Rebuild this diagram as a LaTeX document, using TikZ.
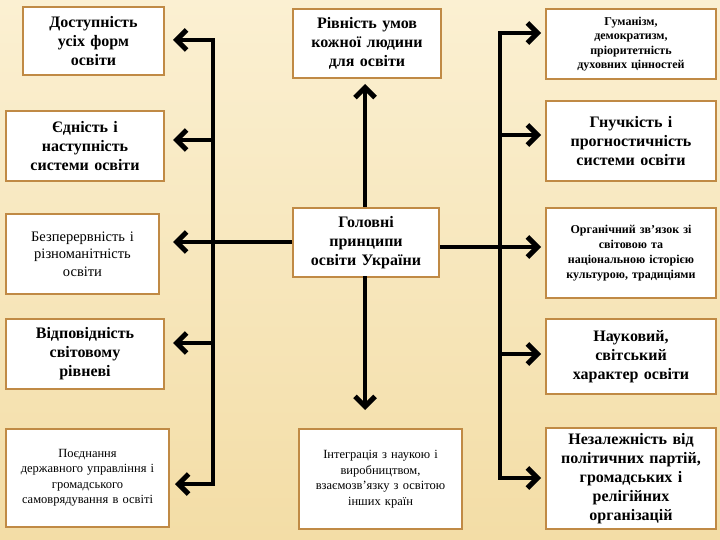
\documentclass[tikz,border=0pt]{standalone}
\usepackage{fontspec}
\setmainfont{Liberation Serif}
\usetikzlibrary{arrows.meta}
\definecolor{bgA}{HTML}{FBF0D2}
\definecolor{bgB}{HTML}{F3DDA6}
\definecolor{frame}{HTML}{C08A45}
\tikzset{
 bx/.style={draw=frame,line width=2pt,fill=white,align=center,inner sep=2pt,anchor=north west},
 bb/.style={font=\bfseries\fontsize{16}{19}\selectfont},
 sm/.style={font=\fontsize{12.5}{15.5}\selectfont},
 ln/.style={line width=4pt,black},
 ar/.style={ln,-{Straight Barb[length=10pt,width=20pt,line width=5pt]}}
}
\begin{document}
\begin{tikzpicture}[x=1pt,y=-1pt]
\shade[top color=bgA,bottom color=bgB] (0,0) rectangle (720,540);
\useasboundingbox (0,0) rectangle (720,540);
% left
\node[bx,bb,minimum width=141,minimum height=68,text width=135] (l1) at (22,6) {Доступність\\усіх форм\\освіти};
\node[bx,bb,minimum width=158,minimum height=70,text width=152] (l2) at (5,110) {Єдність і\\наступність\\системи освіти};
\node[bx,font=\fontsize{14.5}{17.5}\selectfont,minimum width=153,minimum height=80,text width=147] (l3) at (5,213) {Безперервність і\\різноманітність\\освіти};
\node[bx,bb,minimum width=158,minimum height=70,text width=152] (l4) at (5,318) {Відповідність\\світовому\\рівневі};
\node[bx,sm,minimum width=163,minimum height=98,text width=157] (l5) at (5,428) {Поєднання\\державного управління і\\громадського\\самоврядування в освіті};
% middle
\node[bx,bb,minimum width=148,minimum height=69,text width=142] (m1) at (292,8) {Рівність умов\\кожної людини\\для освіти};
\node[bx,bb,minimum width=146,minimum height=69,text width=140] (m2) at (292,207) {Головні\\принципи\\освіти України};
\node[bx,sm,minimum width=163,minimum height=100,text width=157] (m3) at (298,428) {Інтеграція з наукою і\\виробництвом,\\взаємозв'язку з освітою\\інших країн};
% right
\node[bx,font=\bfseries\fontsize{12}{14.5}\selectfont,minimum width=170,minimum height=70,text width=164] (r1) at (545,8) {Гуманізм,\\демократизм,\\пріоритетність\\духовних цінностей};
\node[bx,bb,minimum width=170,minimum height=80,text width=164] (r2) at (545,100) {Гнучкість і\\прогностичність\\системи освіти};
\node[bx,font=\bfseries\fontsize{12}{15}\selectfont,minimum width=170,minimum height=90,text width=164] (r3) at (545,207) {Органічний зв'язок зі\\світовою та\\національною історією\\культурою, традиціями};
\node[bx,bb,minimum width=170,minimum height=75,text width=164] (r4) at (545,318) {Науковий,\\світський\\характер освіти};
\node[bx,bb,minimum width=170,minimum height=101,text width=164] (r5) at (545,427) {Незалежність від\\політичних партій,\\громадських і\\релігійних\\організацій};
% connectors
\coordinate (lt) at (213,40); \coordinate (lb) at (213,484);
\coordinate (rt) at (500,33); \coordinate (rb) at (500,478);
\draw[ln] (lt) -- (lb);
\draw[ln] (rt) -- (rb);
\draw[ar] ([xshift=2pt]lt) -- ([xshift=8pt]l1.east |- lt);
\draw[ar] (213,140) -- ([xshift=8pt]l2.east |- 0,140);
\draw[ar] (m2.west |- 0,242) -- ([xshift=13pt]l3.east |- 0,242);
\draw[ar] (213,343) -- ([xshift=8pt]l4.east |- 0,343);
\draw[ar] ([xshift=2pt]lb) -- ([xshift=5pt]l5.east |- lb);
\draw[ar] ([xshift=-2pt]rt) -- ([xshift=-4pt]r1.west |- rt);
\draw[ar] (500,135) -- ([xshift=-4pt]r2.west |- 0,135);
\draw[ar] (m2.east |- 0,247) -- ([xshift=-4pt]r3.west |- 0,247);
\draw[ar] (500,354) -- ([xshift=-4pt]r4.west |- 0,354);
\draw[ar] ([xshift=-2pt]rb) -- ([xshift=-4pt]r5.west |- rb);
\draw[ar] (365,207) -- (365,84);
\draw[ar] (365,276) -- (365,410);
\end{tikzpicture}
\end{document}
